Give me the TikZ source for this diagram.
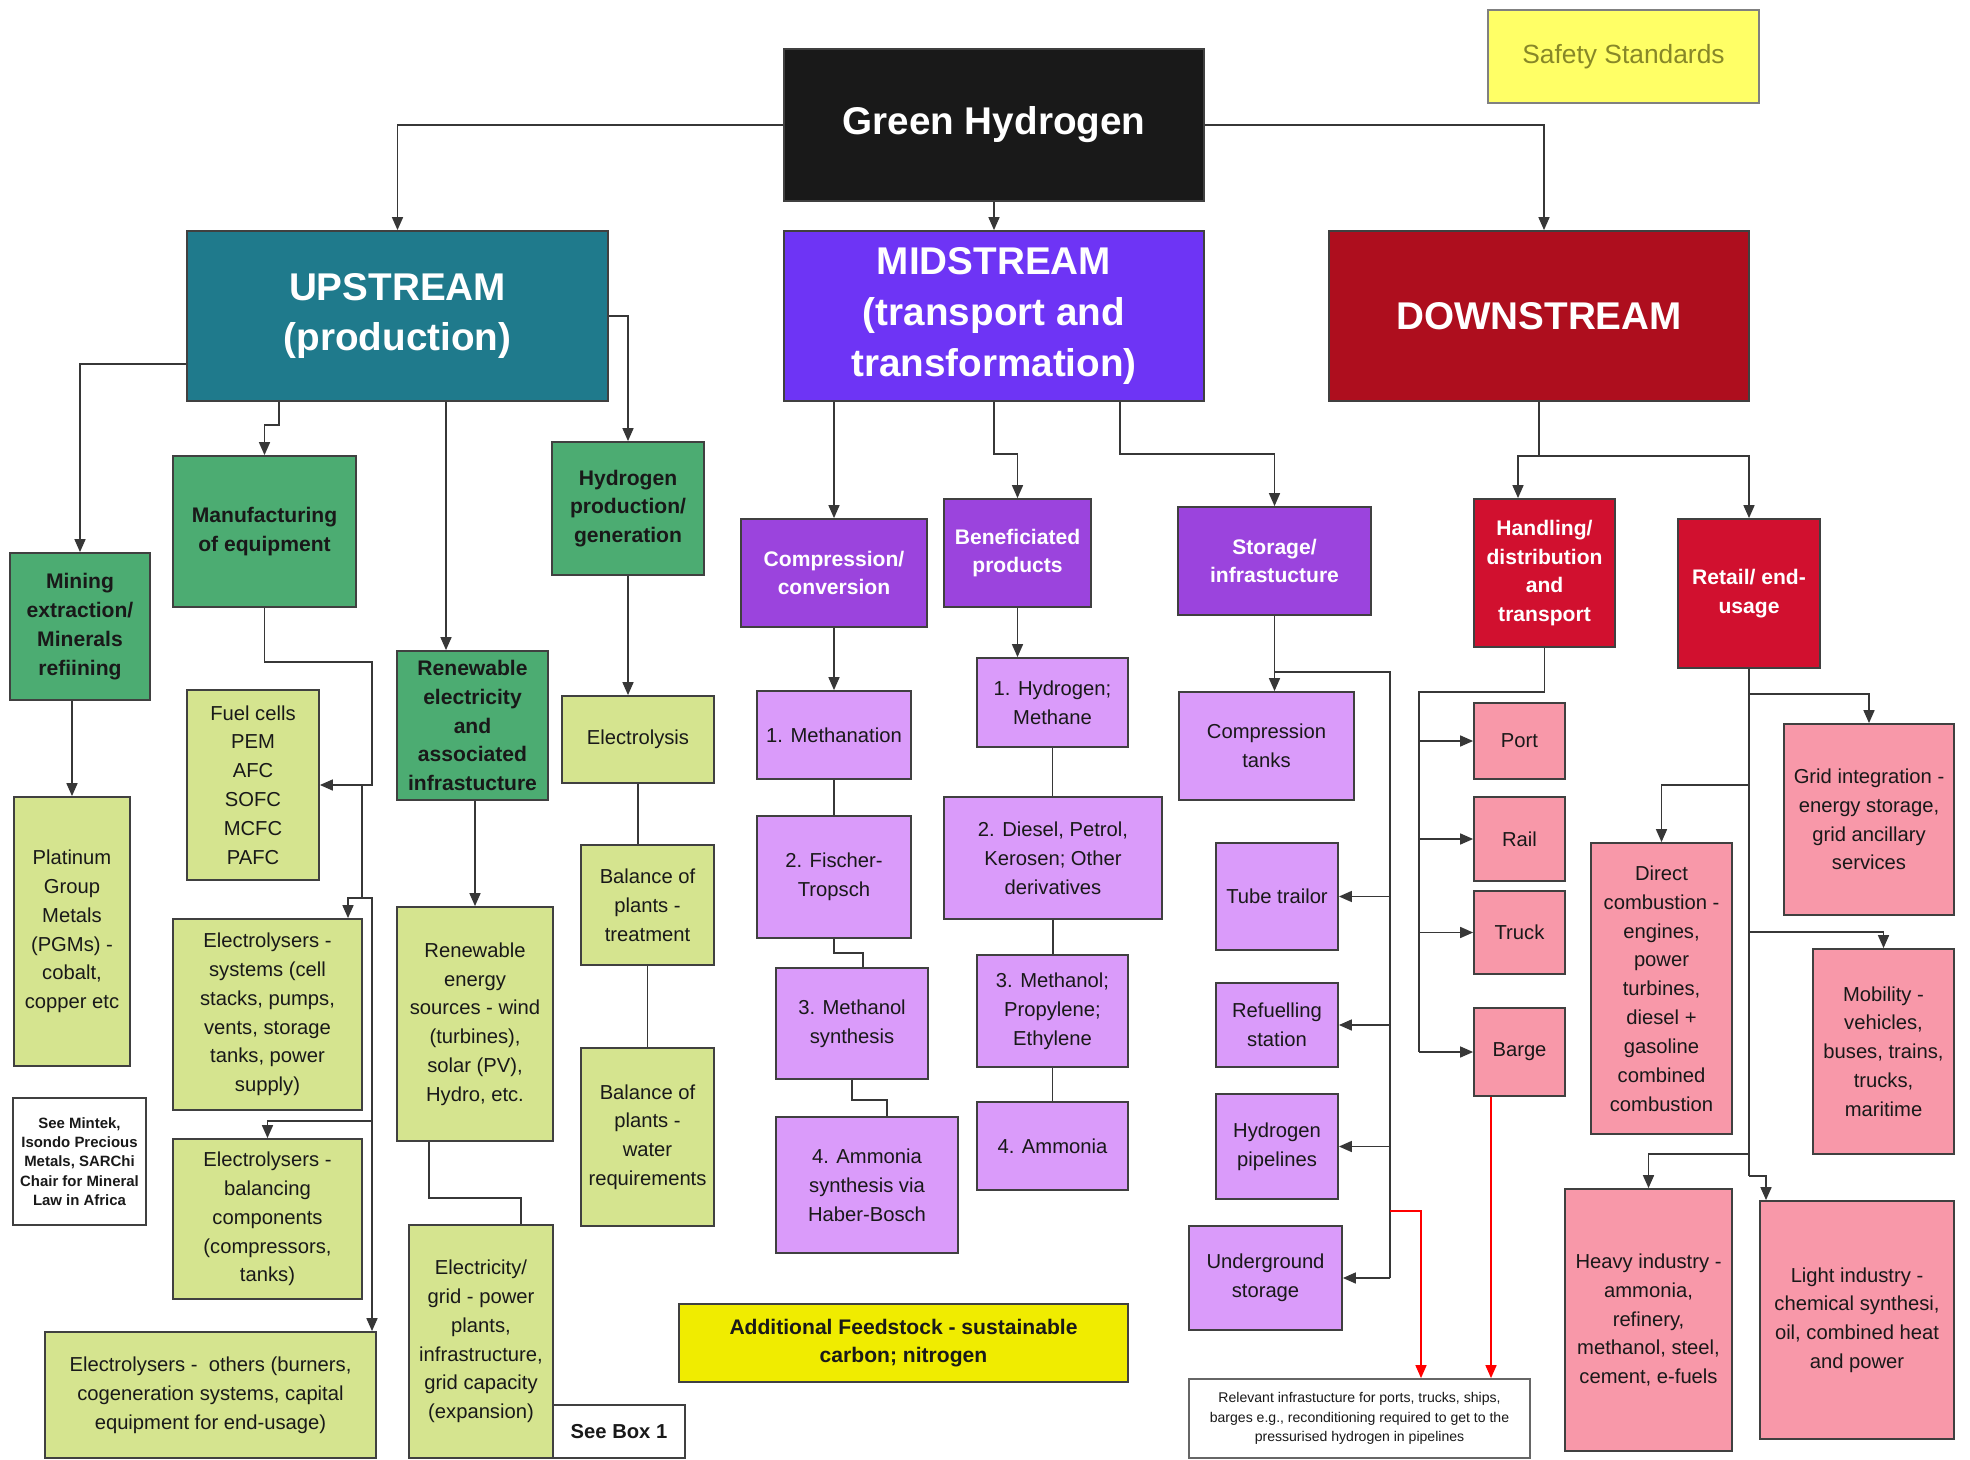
\documentclass[tikz,border=0pt]{standalone}
\usepackage{fontspec}
\setmainfont{Liberation Sans}
\usetikzlibrary{arrows.meta}

\definecolor{upteal}{RGB}{31,122,140}
\definecolor{midviolet}{RGB}{110,52,245}
\definecolor{downred}{RGB}{174,14,30}
\definecolor{grn}{RGB}{76,172,114}
\definecolor{ltgrn}{RGB}{213,228,143}
\definecolor{purp}{RGB}{155,68,221}
\definecolor{ltpurp}{RGB}{218,155,250}
\definecolor{crim}{RGB}{209,16,47}
\definecolor{pnk}{RGB}{248,152,169}
\definecolor{safey}{RGB}{255,255,102}
\definecolor{safetxt}{RGB}{135,135,40}
\definecolor{feedy}{RGB}{240,236,0}
\definecolor{linegray}{RGB}{55,55,55}

\tikzset{
  sz/.style 2 args={minimum width={#1*0.2mm},minimum height={#2*0.2mm}},
  box/.style={draw=black!75,line width=1pt,inner sep=1pt,align=center,text=black!90},
  head/.style={box,text=white,font=\fontsize{22}{29}\selectfont\bfseries},
  lvl/.style={box,font=\fontsize{12}{16.4}\selectfont\bfseries},
  leaf/.style={box,font=\fontsize{11.5}{16.4}\selectfont},
  gbox/.style={lvl,fill=grn},
  lgbox/.style={leaf,fill=ltgrn},
  pbox/.style={lvl,fill=purp,text=white},
  lpbox/.style={leaf,fill=ltpurp},
  rbox/.style={lvl,fill=crim,text=white},
  pkbox/.style={leaf,fill=pnk},
  link/.style={linegray,line width=0.9pt},
  arr/.style={link,-{Triangle[length=2.6mm,width=2.2mm]}},
  redarr/.style={red,line width=0.9pt,-{Triangle[length=2.6mm,width=2.2mm]}}
}

\begin{document}
\begin{tikzpicture}[x=0.2mm,y=-0.2mm]
  \useasboundingbox (0,0) rectangle (1970,1460);

  % top row
  \node[head,fill=black!90,sz={420}{152}] (gh) at (994,125) {Green Hydrogen};
  \node[box,fill=safey,draw=black!50,line width=1.4pt,text=safetxt,font=\fontsize{15}{18}\selectfont,sz={271}{93}] (safe) at (1623.5,56.5) {Safety Standards};
  \node[head,fill=upteal,sz={421}{170}] (ups) at (397.5,316) {UPSTREAM\\(production)};
  \node[head,fill=midviolet,sz={420}{170}] (mid) at (994,316) {MIDSTREAM\\(transport and\\transformation)};
  \node[head,fill=downred,sz={420}{170}] (dwn) at (1539,316) {DOWNSTREAM};

  % upstream
  \node[gbox,sz={140}{147}] (mine) at (80,626.5) {Mining\\extraction/\\Minerals\\refiining};
  \node[gbox,sz={183}{151}] (man) at (264.5,531.5) {Manufacturing\\of equipment};
  \node[gbox,sz={151}{149}] (ren) at (472.5,725.5) {Renewable\\electricity\\and\\associated\\infrastucture};
  \node[gbox,sz={152}{133}] (hyd) at (628,508.5) {Hydrogen\\production/\\generation};
  \node[lgbox,sz={116}{269}] (plat) at (72,931.5) {Platinum\\Group\\Metals\\(PGMs) -\\cobalt,\\copper etc};
  \node[box,fill=white,font=\fontsize{8.5}{11}\selectfont\bfseries,sz={133}{127}] (mintek) at (79.5,1161.5) {See Mintek,\\Isondo Precious\\Metals, SARChi\\Chair for Mineral\\Law in Africa};
  \node[lgbox,sz={132}{190}] (fc) at (253,785) {Fuel cells\\PEM\\AFC\\SOFC\\MCFC\\PAFC};
  \node[lgbox,sz={189}{191}] (els) at (267.5,1014.5) {Electrolysers -\\systems (cell\\stacks, pumps,\\vents, storage\\tanks, power\\supply)};
  \node[lgbox,sz={189}{160}] (elb) at (267.5,1219) {Electrolysers -\\balancing\\components\\(compressors,\\tanks)};
  \node[lgbox,sz={331}{126}] (elo) at (210.5,1395) {Electrolysers - \ others (burners,\\cogeneration systems, capital\\equipment for end-usage)};
  \node[lgbox,sz={156}{234}] (res) at (475,1024) {Renewable\\energy\\sources - wind\\(turbines),\\solar (PV),\\Hydro, etc.};
  \node[lgbox,sz={144}{233}] (ele) at (481,1341.5) {Electricity/\\grid - power\\plants,\\infrastructure,\\grid capacity\\(expansion)};
  \node[box,fill=white,font=\fontsize{11.5}{14}\selectfont\bfseries,sz={132}{53}] (box1) at (619,1431.5) {See Box 1};
  \node[lgbox,sz={152}{87}] (elz) at (638,739.5) {Electrolysis};
  \node[lgbox,sz={133}{120}] (bpt) at (647.5,905) {Balance of\\plants -\\treatment};
  \node[lgbox,sz={133}{178}] (bpw) at (647.5,1137) {Balance of\\plants -\\water\\requirements};

  % midstream
  \node[pbox,sz={186}{108}] (cc) at (834,573) {Compression/\\conversion};
  \node[pbox,sz={147}{108}] (ben) at (1017.5,553) {Beneficiated\\products};
  \node[pbox,sz={193}{108}] (sto) at (1274.5,561) {Storage/\\infrastucture};
  \node[lpbox,sz={154}{88}] (meth) at (834,735) {1. Methanation};
  \node[lpbox,sz={154}{122}] (ft) at (834,877) {2. Fischer-\\Tropsch};
  \node[lpbox,sz={152}{111}] (mes) at (852,1023.5) {3. Methanol\\synthesis};
  \node[lpbox,sz={182}{136}] (amh) at (867,1185) {4. Ammonia\\synthesis via\\Haber-Bosch};
  \node[lpbox,sz={151}{89}] (h1) at (1052.5,702.5) {1. Hydrogen;\\Methane};
  \node[lpbox,sz={218}{122}] (dsl) at (1053,858) {2. Diesel, Petrol,\\Kerosen; Other\\derivatives};
  \node[lpbox,sz={151}{112}] (mp) at (1052.5,1011) {3. Methanol;\\Propylene;\\Ethylene};
  \node[lpbox,sz={151}{88}] (am) at (1052.5,1146) {4. Ammonia};
  \node[lpbox,sz={175}{108}] (ct) at (1266.5,746) {Compression\\tanks};
  \node[lpbox,sz={122}{107}] (tt) at (1277,896.5) {Tube trailor};
  \node[lpbox,sz={122}{84}] (rf) at (1277,1025) {Refuelling\\station};
  \node[lpbox,sz={122}{105}] (hp) at (1277,1146.5) {Hydrogen\\pipelines};
  \node[lpbox,sz={153}{104}] (ug) at (1265.5,1278) {Underground\\storage};
  \node[box,fill=feedy,font=\fontsize{12}{16.4}\selectfont\bfseries,sz={449}{78}] (feed) at (903.5,1343) {Additional Feedstock - sustainable\\carbon; nitrogen};
  \node[box,fill=white,draw=black!60,font=\fontsize{8}{11}\selectfont,sz={341}{79}] (rel) at (1359.5,1418.5) {Relevant infrastucture for ports, trucks, ships,\\barges e.g., reconditioning required to get to the\\pressurised hydrogen in pipelines};

  % downstream
  \node[rbox,sz={141}{148}] (hand) at (1544.5,573) {Handling/\\distribution\\and\\transport};
  \node[rbox,sz={142}{149}] (ret) at (1749,593.5) {Retail/ end-\\usage};
  \node[pkbox,sz={91}{76}] (port) at (1519.5,741) {Port};
  \node[pkbox,sz={91}{84}] (rail) at (1519.5,839) {Rail};
  \node[pkbox,sz={91}{83}] (truck) at (1519.5,932.5) {Truck};
  \node[pkbox,sz={91}{88}] (barge) at (1519.5,1052) {Barge};
  \node[pkbox,sz={170}{191}] (grid) at (1869,819.5) {Grid integration -\\energy storage,\\grid ancillary\\services};
  \node[pkbox,sz={141}{291}] (dc) at (1661.5,988.5) {Direct\\combustion -\\engines,\\power\\turbines,\\diesel +\\gasoline\\combined\\combustion};
  \node[pkbox,sz={141}{205}] (mob) at (1883.5,1051.5) {Mobility -\\vehicles,\\buses, trains,\\trucks,\\maritime};
  \node[pkbox,sz={167}{262}] (hvy) at (1648.5,1320) {Heavy industry -\\ammonia,\\refinery,\\methanol, steel,\\cement, e-fuels};
  \node[pkbox,sz={194}{238}] (lgt) at (1857,1320) {Light industry -\\chemical synthesi,\\oil, combined heat\\and power};

  % connectors
  \draw[arr] (gh.west) -| (ups.north);
  \draw[arr] (gh.south) -- (mid.north);
  \draw[arr] (gh.east) -| (dwn.north -| 1544,0);

  \draw[arr] (ups.west |- 0,364) -| (mine.north);
  \draw[arr] (ups.south -| 279,0) |- (man.north |- 0,425) -- (man.north);
  \draw[arr] (ups.south -| 446,0) -- (ren.north -| 446,0);
  \draw[arr] (ups.east) -| (hyd.north);
  \draw[arr] (mine.south -| plat.north) -- (plat.north);
  \coordinate (mtrunk) at (372,662);
  \draw[arr] (man.south) |- (mtrunk) |- (fc.east);
  \draw[arr] (fc.east -| 362,0) |- (348,898) -- (els.north -| 348,0);
  \draw[arr] (fc.east -| 362,0) |- (mtrunk |- 0,898) -- (mtrunk |- elo.north);
  \draw[arr] (mtrunk |- 0,1121) -| (elb.north);
  \draw[arr] (ren.south -| res.north) -- (res.north);
  \draw[link] (res.south -| 429,0) |- (521,1198) -- (ele.north -| 521,0);
  \draw[arr] (hyd.south) -- (hyd.south |- elz.north);
  \draw[link] (elz.south) -- (elz.south |- bpt.north);
  \draw[link] (bpt.south) -- (bpt.south |- bpw.north);

  \draw[arr] (mid.south -| cc.north) -- (cc.north);
  \draw[arr] (mid.south) |- (ben.north |- 0,454) -- (ben.north);
  \draw[arr] (mid.south -| 1120,0) |- (sto.north |- 0,454) -- (sto.north);
  \draw[arr] (cc.south) -- (meth.north);
  \draw[link] (meth.south) -- (ft.north);
  \draw[link] (ft.south) |- (863,953) -- (mes.north -| 863,0);
  \draw[link] (mes.south) |- (887,1100) -- (amh.north -| 887,0);
  \draw[arr] (ben.south) -- (ben.south |- h1.north);
  \draw[link] (h1.south) -- (h1.south |- dsl.north);
  \draw[link] (dsl.south) -- (dsl.south |- mp.north);
  \draw[link] (mp.south) -- (am.north);
  \draw[arr] (sto.south) -- (sto.south |- ct.north);
  \coordinate (strunk) at (1390,672);
  \draw[link] (sto.south |- strunk) -- (strunk) -- (strunk |- ug.east);
  \foreach \n in {tt,rf,hp,ug}
    \draw[arr] (strunk |- \n.east) -- (\n.east);
  \draw[redarr] (strunk |- 0,1211) -| (rel.north -| 1421,0);
  \draw[redarr] (barge.south -| 1491,0) -- (rel.north -| 1491,0);

  \draw[arr] (dwn.south) |- (1518,456) -- (hand.north -| 1518,0);
  \draw[arr] (dwn.south |- 0,456) -| (ret.north);
  \coordinate (htrunk) at (1419,692);
  \draw[link] (hand.south) |- (htrunk) -- (htrunk |- barge.west);
  \foreach \n in {port,rail,truck,barge}
    \draw[arr] (htrunk |- \n.west) -- (\n.west);
  \coordinate (rtrunk) at (1749,1176);
  \draw[link] (ret.south) -- (rtrunk);
  \draw[arr] (ret.south |- 0,694) -| (grid.north);
  \draw[arr] (ret.south |- 0,785) -| (dc.north);
  \draw[arr] (ret.south |- 0,932) -| (mob.north);
  \draw[arr] (ret.south |- 0,1154) -| (hvy.north);
  \draw[arr] (rtrunk) -| (lgt.north -| 1766,0);
\end{tikzpicture}
\end{document}
